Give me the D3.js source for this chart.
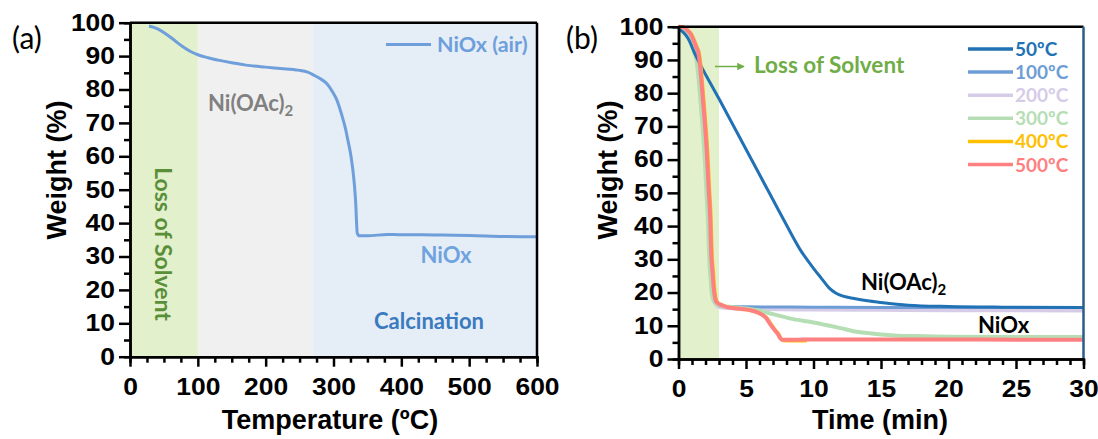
<!DOCTYPE html>
<html>
<head>
<meta charset="utf-8">
<script src="https://cdn.jsdelivr.net/npm/d3@7"></script>
<style>
  body { margin: 0; background: #fff; }
  svg { display: block; }
  .tick text { font-family: "Liberation Sans", Arial, sans-serif; font-weight: bold; font-size: 23px; fill: #000; }
  .note { font-family: Lato, "Open Sans", sans-serif; font-weight: bold; }
</style>
</head>
<body>
<div id="chart"></div>
<script>
// ---- data (a): TGA of the precursor in air ----
const tgaTemp = [28, 40, 52, 65, 78, 90, 100, 115, 130, 150, 171, 200, 222, 248, 262, 271, 280, 290, 298, 305, 312, 318, 321, 325, 328, 331, 333, 334, 335, 338, 350, 380, 400, 430, 460, 500, 550, 600];
const tgaWeight = [99, 98.2, 96.8, 94.8, 92.8, 91.3, 90.4, 89.5, 88.8, 88.0, 87.3, 86.7, 86.3, 85.8, 85.2, 84.3, 83.3, 81.8, 79.5, 76.8, 72.5, 68, 65, 61, 56.8, 51, 45, 40, 37, 36.2, 36.2, 36.6, 36.5, 36.5, 36.4, 36.3, 36.0, 35.9];

// ---- data (b): isothermal weight loss vs time ----
const seriesNames = ["50ºC", "100ºC", "200ºC", "300ºC", "400ºC", "500ºC"];

const t50 = [0, 0.3, 0.7, 1.2, 3, 5, 7, 8, 9, 10, 10.6, 11.15, 11.67, 12.2, 13, 14, 15, 17, 20, 24, 30];
const w50 = [99.3, 98.5, 96.5, 92, 78.3, 63.1, 47.9, 40.3, 33, 27.3, 24.2, 21.4, 19.8, 18.9, 18.2, 17.5, 17, 16.2, 15.8, 15.6, 15.5];

const t100 = [0, 0.35, 0.57, 0.87, 1.05, 1.22, 1.4, 1.52, 1.65, 1.85, 2.02, 2.14, 2.27, 2.35, 2.45, 2.53, 2.67, 2.87, 3.2, 5, 10, 15, 20, 25, 30];
const w100 = [100, 99.6, 98.8, 97, 95, 92.5, 90, 86, 80, 70, 60, 50, 40, 30, 24, 20, 17.5, 16.4, 15.9, 15.7, 15.6, 15.5, 15.5, 15.5, 15.5];

const t200 = [0, 0.35, 0.57, 0.87, 1.05, 1.22, 1.4, 1.52, 1.65, 1.85, 2.02, 2.14, 2.27, 2.35, 2.45, 2.53, 2.67, 2.87, 3.2, 5, 10, 15, 20, 25, 30];
const w200 = [100, 99.6, 98.8, 97, 95, 92.5, 90, 86, 80, 70, 60, 50, 40, 30, 24, 20, 17.3, 16, 15.5, 15.1, 14.9, 14.8, 14.7, 14.7, 14.6];

const t300 = [0, 0.3, 0.5, 0.8, 0.98, 1.15, 1.33, 1.45, 1.58, 1.78, 1.95, 2.07, 2.2, 2.28, 2.38, 2.46, 2.6, 2.8, 3.2, 4, 5, 6, 7, 8.5, 10, 11.2, 12, 13.2, 14, 15, 16, 17.6, 20, 25, 30];
const w300 = [100, 99.6, 98.8, 97, 95, 92.5, 90, 86, 80, 70, 60, 50, 40, 30, 24, 20, 17.5, 16.5, 16, 15.6, 15.2, 14.5, 13.5, 12, 11, 10, 9.3, 8.2, 7.8, 7.4, 7.1, 6.9, 6.7, 6.6, 6.6];

const t400 = [0, 0.45, 0.68, 0.95, 1.16, 1.35, 1.53, 1.66, 1.79, 1.99, 2.16, 2.28, 2.41, 2.48, 2.58, 2.65, 2.76, 2.9, 3.25, 3.6, 4.2, 4.8, 5.4, 5.8, 6.2, 6.55, 6.85, 7.15, 7.45, 7.6, 7.75, 8.5, 9.5];
const w400 = [100, 99.8, 99, 97.8, 96, 94, 92, 88, 82, 72, 62, 52, 42, 32, 26, 22, 18.5, 17, 16.2, 15.6, 15.3, 15, 14.6, 14.1, 13.3, 12.3, 10.5, 8.8, 7.3, 6.0, 5.6, 5.5, 5.5];

const t500 = [0, 0.4, 0.62, 0.9, 1.11, 1.3, 1.48, 1.6, 1.73, 1.93, 2.1, 2.22, 2.35, 2.42, 2.52, 2.59, 2.7, 2.84, 3.2, 3.58, 4.2, 4.81, 5.4, 5.8, 6.2, 6.5, 6.79, 7.1, 7.39, 7.55, 7.7, 8.5, 10, 15, 20, 25, 30];
const w500 = [100, 99.8, 99, 97.8, 96, 94, 92, 88, 82, 72, 62, 52, 42, 32, 26, 22, 18.5, 17, 16.2, 15.6, 15.3, 15, 14.6, 14.1, 13.3, 12.3, 10.5, 8.8, 7.3, 6.2, 5.8, 5.8, 5.9, 5.9, 5.9, 5.8, 5.8];

const yTicks = [0, 10, 20, 30, 40, 50, 60, 70, 80, 90, 100];
const tempTicks = [0, 100, 200, 300, 400, 500, 600];
const timeTicks = [0, 5, 10, 15, 20, 25, 30];

const SERIES_COLORS = ["#2171b5", "#6e9dd6", "#d6cce8", "#b5deb5", "#ffc000", "#ff8080"];
const SERIES_WIDTHS = [3, 3, 4, 4, 3.5, 4];

const WIDTH = 1098, HEIGHT = 439;
const STRETCH = 1.15; // tick digits in the figure are wider than normal Arial

let svg = d3.select("#chart").append("svg")
    .attr("width", WIDTH)
    .attr("height", HEIGHT);

// scales
const xA = d3.scaleLinear().domain([0, 600]).range([130, 537]);
const yA = d3.scaleLinear().domain([0, 100]).range([356.7, 22.7]);
const xB = d3.scaleLinear().domain([0, 30]).range([678.5, 1083.5]);
const yB = d3.scaleLinear().domain([0, 100]).range([359, 26.7]);

/**
 * Draw left + bottom axes with major/minor ticks and the top/right frame
 */
function drawAxes(x, y, xMajor, xMinorStep, rightColor) {
    let g = svg.append("g");
    let x0 = x.range()[0], x1 = x.range()[1];
    let y0 = y.range()[0], y1 = y.range()[1];

    // frame
    g.append("line").attr("x1", x0).attr("x2", x1).attr("y1", y1).attr("y2", y1)
        .attr("stroke", "#000").attr("stroke-width", 2.5);
    g.append("line").attr("x1", x1).attr("x2", x1).attr("y1", y1).attr("y2", y0)
        .attr("stroke", rightColor).attr("stroke-width", 2.5);

    let d = x.domain();
    let xMinor = d3.range(d[0], d[1] + 1e-9, xMinorStep).filter(v => !xMajor.includes(v));
    let yMinor = d3.range(5, 100, 10);

    // minor ticks
    g.append("g").attr("transform", "translate(0," + y0 + ")")
        .call(d3.axisBottom(x).tickValues(xMinor).tickSize(6).tickFormat(""));
    g.append("g").attr("transform", "translate(" + x0 + ",0)")
        .call(d3.axisLeft(y).tickValues(yMinor).tickSize(6).tickFormat(""));

    // major ticks
    let bx = g.append("g").attr("transform", "translate(0," + y0 + ")")
        .call(d3.axisBottom(x).tickValues(xMajor).tickSize(10).tickPadding(12).tickSizeOuter(0));
    bx.selectAll(".tick text").attr("transform", "scale(" + STRETCH + ",1)");

    let ly = g.append("g").attr("transform", "translate(" + x0 + ",0)")
        .call(d3.axisLeft(y).tickValues(yTicks).tickSize(11).tickPadding(4).tickSizeOuter(0));
    ly.selectAll(".tick text")
        .attr("x", null)
        .attr("transform", "translate(-15,0) scale(" + STRETCH + ",1)");

    g.selectAll(".domain").attr("stroke", "#000").attr("stroke-width", 2.5);
    g.selectAll(".tick line").attr("stroke", "#000").attr("stroke-width", 2.5);
    return g;
}

function titleText(txt, x, y, rotate) {
    svg.append("text")
        .attr("transform", "translate(" + x + "," + y + ")" + (rotate ? " rotate(-90)" : ""))
        .attr("text-anchor", "middle")
        .style("font-family", "'Liberation Sans', Arial, sans-serif")
        .style("font-weight", "bold")
        .style("font-size", "27px")
        .text(txt);
}

function note(txt, x, y, color, size, anchor) {
    return svg.append("text")
        .attr("class", "note")
        .attr("x", x).attr("y", y)
        .attr("text-anchor", anchor || "start")
        .attr("fill", color)
        .style("font-size", size + "px")
        .text(txt);
}

// ================= panel (a) =================
// shaded regions
const bandsA = [[0, 100, "#e2f0cb"], [100, 270, "#f0f0f0"], [270, 600, "#e5edf7"]];
svg.append("g").selectAll("rect")
    .data(bandsA)
    .enter().append("rect")
    .attr("x", d => xA(d[0]))
    .attr("width", d => xA(d[1]) - xA(d[0]))
    .attr("y", yA(100))
    .attr("height", yA(0) - yA(100))
    .attr("fill", d => d[2]);

let lineA = d3.line()
    .x(d => xA(d[0]))
    .y(d => yA(d[1]))
    .curve(d3.curveMonotoneX);

svg.append("path")
    .datum(d3.zip(tgaTemp, tgaWeight))
    .attr("d", lineA)
    .attr("fill", "none")
    .attr("stroke", "#6e9fdb")
    .attr("stroke-width", 3);

drawAxes(xA, yA, tempTicks, 25, "#000");

// legend (a)
svg.append("line").attr("x1", 386).attr("x2", 431).attr("y1", 44.5).attr("y2", 44.5)
    .attr("stroke", "#6e9fdb").attr("stroke-width", 3);
note("NiOx (air)", 437, 52, "#6e9fdb", 21.5);

// annotations (a)
note("Loss of Solvent", 0, 0, "#5a8f3a", 23, "middle")
    .attr("transform", "translate(155,244) rotate(90)");
let niA = note("Ni(OAc)", 208, 111, "#808080", 22);
niA.append("tspan").attr("dy", 5).style("font-size", "15px").text("2");
note("NiOx", 446, 263, "#6fa3de", 22, "middle");
note("Calcination", 429, 329, "#3a7abf", 22, "middle");

titleText("Weight (%)", 66, 170, true);
titleText("Temperature (ºC)", 330, 429, false);

svg.append("text").attr("x", 12).attr("y", 49)
    .style("font-family", "Lato, 'Open Sans', sans-serif")
    .style("font-size", "30px").text("(a)");

// ================= panel (b) =================
svg.append("rect")
    .attr("x", xB(0)).attr("width", xB(3) - xB(0))
    .attr("y", yB(100)).attr("height", yB(0) - yB(100))
    .attr("fill", "#e2f0cb");

const seriesT = [t50, t100, t200, t300, t400, t500];
const seriesW = [w50, w100, w200, w300, w400, w500];
let seriesB = seriesNames.map((n, i) => ({ name: n, color: SERIES_COLORS[i], width: SERIES_WIDTHS[i], pts: d3.zip(seriesT[i], seriesW[i]) }));

let lineB = d3.line()
    .x(d => xB(d[0]))
    .y(d => yB(d[1]))
    .curve(d3.curveMonotoneX);

// draw order so the hot runs sit on top, like the figure
const drawOrder = [2, 1, 3, 0, 4, 5];
svg.append("g").selectAll("path")
    .data(drawOrder.map(i => seriesB[i]))
    .enter().append("path")
    .attr("d", d => lineB(d.pts))
    .attr("fill", "none")
    .attr("stroke", d => d.color)
    .attr("stroke-width", d => d.width)
    .attr("stroke-linejoin", "round");

drawAxes(xB, yB, timeTicks, 1, "#2b5c8a");

// legend (b)
let leg = svg.append("g").selectAll("g")
    .data(seriesB)
    .enter().append("g")
    .attr("transform", (d, i) => "translate(0," + (49 + i * 23.1) + ")");
leg.append("line").attr("x1", 968).attr("x2", 1013)
    .attr("stroke", d => d.color).attr("stroke-width", 3.5);
leg.append("text")
    .attr("class", "note")
    .attr("x", 1015).attr("y", 7)
    .attr("fill", d => d.color)
    .style("font-size", "19px")
    .text(d => d.name);

// arrow + solvent note
svg.append("defs").append("marker")
    .attr("id", "arr").attr("viewBox", "0 0 10 10").attr("refX", 9).attr("refY", 5)
    .attr("markerWidth", 5).attr("markerHeight", 5).attr("orient", "auto")
    .append("path").attr("d", "M0,0 L10,5 L0,10 z").attr("fill", "#70ad47");
svg.append("line").attr("x1", 715).attr("x2", 744).attr("y1", 66.5).attr("y2", 66.5)
    .attr("stroke", "#70ad47").attr("stroke-width", 1.5).attr("marker-end", "url(#arr)");
note("Loss of Solvent", 754, 73, "#70ad47", 22.5);

let niB = note("Ni(OAc)", 861, 290, "#000", 22);
niB.append("tspan").attr("dy", 5).style("font-size", "15px").text("2");
note("NiOx", 978, 333, "#000", 22);

titleText("Weight (%)", 617, 170, true);
titleText("Time (min)", 880, 429, false);

svg.append("text").attr("x", 566).attr("y", 49)
    .style("font-family", "Lato, 'Open Sans', sans-serif")
    .style("font-size", "30px").text("(b)");
</script>
</body>
</html>
